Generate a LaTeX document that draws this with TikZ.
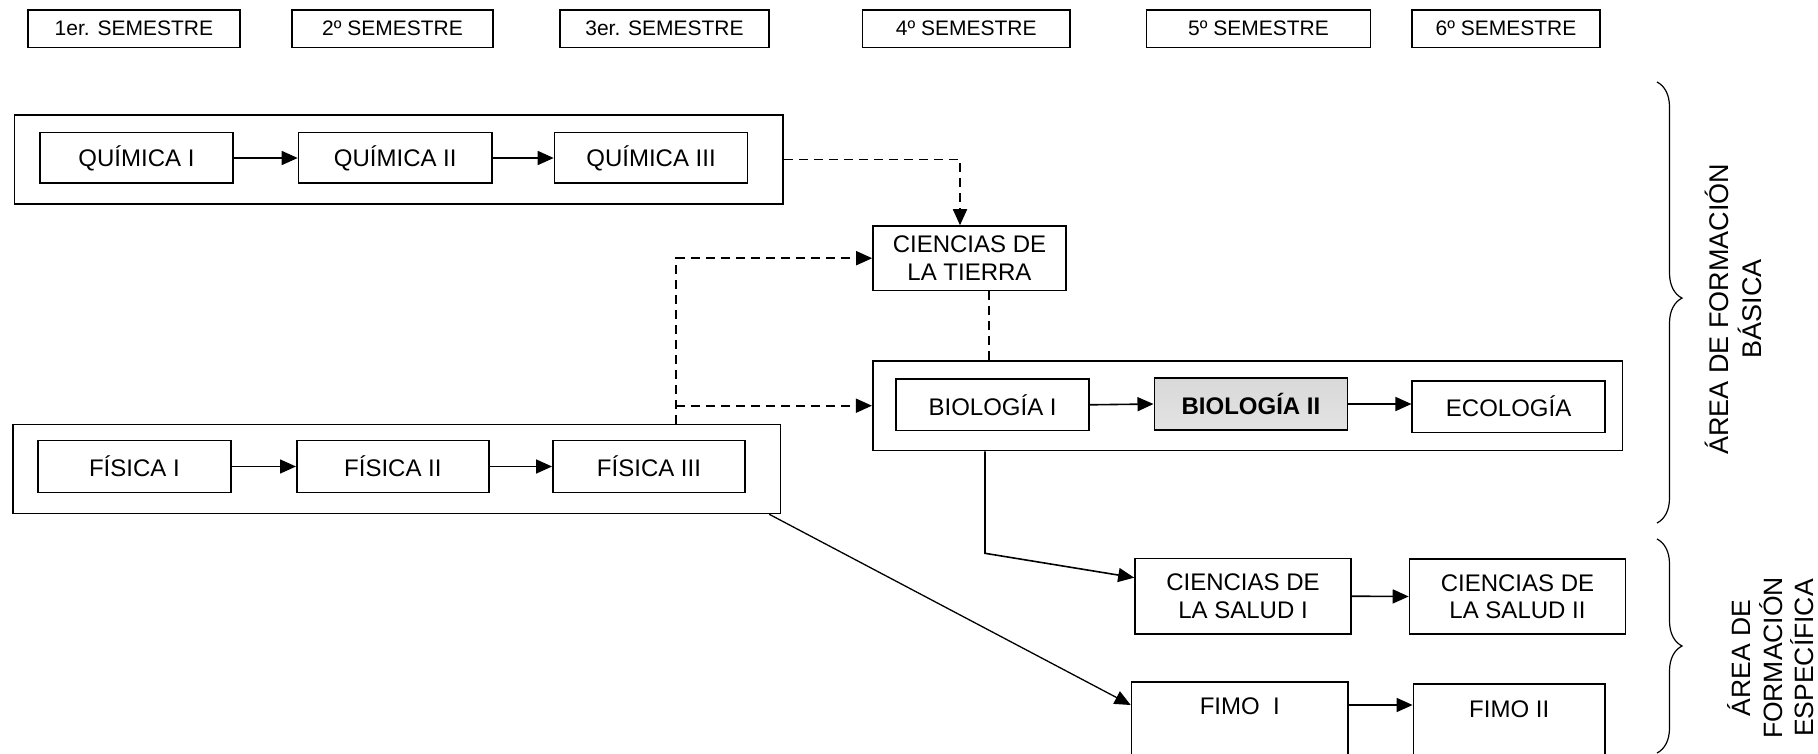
\documentclass[tikz,border=0pt]{standalone}
\usepackage{fontspec}
\setmainfont{Liberation Sans}
\usetikzlibrary{arrows.meta,decorations.pathreplacing,calc}
\begin{document}
\begin{tikzpicture}[x=1pt,y=-1pt,
  box/.style={draw, line width=1.6pt, inner sep=0pt, align=center, font=\fontsize{24}{27.5}\selectfont},
  sem/.style={draw, line width=1.4pt, inner sep=0pt, minimum height=37.5pt, font=\fontsize{21}{25}\selectfont},
  grp/.style={draw, line width=1.6pt, inner sep=0pt},
  arr/.style={line width=1.6pt, -{Triangle[length=16pt,width=14pt]}},
  dsh/.style={line width=1.6pt, dash pattern=on 9pt off 6pt},
  darr/.style={dsh, -{Triangle[length=16pt,width=14pt]}},
  brc/.style={line width=1.2pt, decorate},
  lbl/.style={rotate=90, align=center, inner sep=0pt},
]
\clip (0,0) rectangle (1818,754);
\fill[white] (0,0) rectangle (1818,754);

% semester headers
\node[sem, minimum width=212.2pt] (s1) at (133.9,28.75) {1er. SEMESTRE};
\node[sem, minimum width=201pt] (s2) at (392.5,28.75) {2º SEMESTRE};
\node[sem, minimum width=209pt] (s3) at (664.5,28.75) {3er. SEMESTRE};
\node[sem, minimum width=207.4pt] (s4) at (966.3,28.75) {4º SEMESTRE};
\node[sem, minimum width=223.8pt] (s5) at (1258.5,28.75) {5º SEMESTRE};
\node[sem, minimum width=188pt] (s6) at (1506,28.75) {6º SEMESTRE};

% group frames
\node[grp, minimum width=768.5pt, minimum height=89pt] (qout) at (398.75,159.5) {};
\node[grp, minimum width=767.8pt, minimum height=89.2pt] (fout) at (396.6,468.9) {};
\node[grp, minimum width=749.7pt, minimum height=89.5pt] (bout) at (1247.6,405.7) {};

% quimica
\node[box, minimum width=193pt, minimum height=50.6pt] (q1) at (136.5,158) {QUÍMICA I};
\node[box, minimum width=193.5pt, minimum height=50.6pt] (q2) at (395.25,158) {QUÍMICA II};
\node[box, minimum width=193pt, minimum height=50.6pt] (q3) at (651,158) {QUÍMICA III};

% fisica
\node[box, minimum width=193pt, minimum height=52pt] (f1) at (134.35,466.5) {FÍSICA I};
\node[box, minimum width=192.2pt, minimum height=52pt] (f2) at (392.9,466.5) {FÍSICA II};
\node[box, minimum width=192.3pt, minimum height=52pt] (f3) at (649,466.5) {FÍSICA III};

% ciencias de la tierra
\node[box, minimum width=193pt, minimum height=64.3pt] (ct) at (969.5,258.2) {CIENCIAS DE\\LA TIERRA};

% biologia
\node[box, minimum width=192.7pt, minimum height=51.7pt] (b1) at (992.6,404.8) {BIOLOGÍA I};
\node[box, minimum width=193.2pt, minimum height=52pt, top color=gray!30, middle color=white, bottom color=gray!22, font=\fontsize{24}{27.5}\selectfont\bfseries] (b2) at (1250.9,404) {BIOLOGÍA II};
\node[box, minimum width=192.7pt, minimum height=51.6pt] (eco) at (1508.6,406.5) {ECOLOGÍA};

% ciencias de la salud
\node[box, minimum width=216pt, minimum height=75.7pt] (cs1) at (1243,596.2) {CIENCIAS DE\\LA SALUD I};
\node[box, minimum width=216pt, minimum height=75pt] (cs2) at (1517.5,596.5) {CIENCIAS DE\\LA SALUD II};

% fimo
\node[box, anchor=north, minimum width=216.5pt, minimum height=110pt, text height=32.6pt, text depth=77.4pt] (fimo1) at (1239.75,681) {FIMO\ \ I};
\node[box, anchor=north, minimum width=191.6pt, minimum height=110pt, text height=33.3pt, text depth=76.7pt] (fimo2) at (1509.2,683.3) {FIMO II};

% solid arrows in chains
\draw[arr] (q1.east) -- (q2.west);
\draw[arr] (q2.east) -- (q3.west);
\draw[arr] (f1.east) -- (f2.west);
\draw[arr] (f2.east) -- (f3.west);
\draw[arr] (b1.east) -- (b2.west);
\draw[arr] (b2.east) -- (b2.east -| eco.west);
\draw[arr] (cs1.east) -- (cs2.west);
\draw[arr] ($(fimo1.north east)+(0,24)$) -- ($(fimo2.north west)+(0,21.7)$);

% dashed connectors
\coordinate (qc) at (960,159.5);
\draw[darr] (qout.east) -- (qc) -- (qc |- ct.north);
\coordinate (tc) at (988.7,300);
\draw[dsh] (tc |- ct.south) -- (tc |- bout.north);
\coordinate (dj) at (676,405.7);
\draw[darr] (dj |- fout.north) |- (ct.west);
\draw[darr] (dj) -- (bout.west);

% solid connectors to specific area
\coordinate (bc) at (985,553.3);
\draw[arr] (bc |- bout.south) -- (bc) -- ($(cs1.north west)!0.26!(cs1.south west)$);
\draw[line width=1.3pt, -{Triangle[length=16pt,width=14pt]}] ($(fout.south east)+(-12,0)$) -- ($(fimo1.north west)+(0,24)$);

% braces
\draw[brc, decoration={brace, amplitude=25pt, aspect=0.49}] (1657,82) -- (1657,523);
\draw[brc, decoration={brace, amplitude=25pt, aspect=0.5}] (1657,539) -- (1657,753);

% labels
\node[lbl, font=\fontsize{27}{33}\selectfont] (lb1) at (1733,309) {ÁREA DE FORMACIÓN\\BÁSICA};
\node[lbl, font=\fontsize{26.5}{31.5}\selectfont] (lb2) at (1771,658) {ÁREA DE\\FORMACIÓN\\ESPECÍFICA};
\end{tikzpicture}
\end{document}
